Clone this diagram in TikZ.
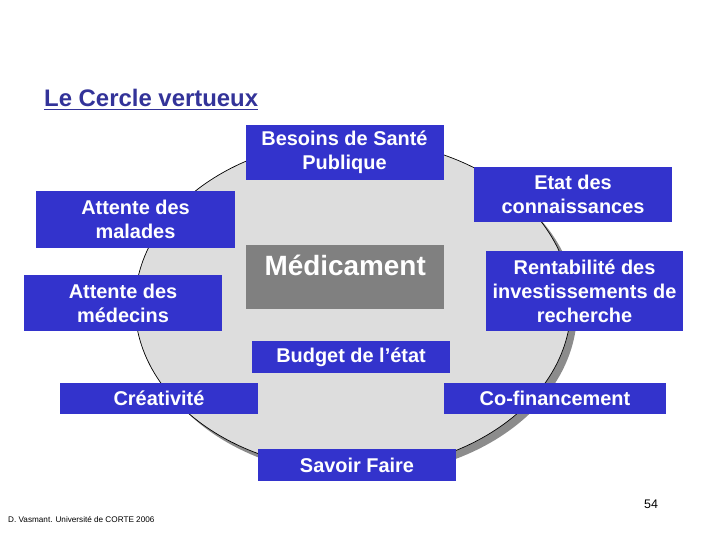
\documentclass[tikz,border=0pt]{standalone}
\usepackage{fontspec}
\setmainfont{Liberation Sans}
\definecolor{slideblue}{HTML}{3333CC}
\definecolor{slidetitle}{HTML}{333399}
\definecolor{slidegrey}{HTML}{DDDDDD}
\definecolor{slideshadow}{HTML}{8C8C8C}
\definecolor{slidedark}{HTML}{808080}

\begin{document}
\begin{tikzpicture}[
  x=1bp,
  y=-1bp,
  every node/.style={font=\bfseries\fontsize{20}{24}\selectfont, white},
  box/.style={fill=slideblue, align=center, inner sep=0pt,
              minimum width=198bp},
  medbox/.style={fill=slidedark, inner xsep=0pt, inner ysep=4bp,
                 minimum width=198bp, text height=26bp, text depth=30bp,
                 font=\bfseries\fontsize{28}{32}\selectfont},
  heading/.style={slidetitle, inner sep=0pt,
                  font=\bfseries\fontsize{24}{28}\selectfont},
  small/.style={black, inner sep=0pt, font=\fontsize{8.2}{10}\selectfont},
  pageno/.style={black, inner sep=0pt, font=\fontsize{12.5}{15}\selectfont}
]
  % ---- page frame ------------------------------------------------------
  \useasboundingbox (0,0) rectangle (720,540);

  % ---- the circle and its shadow ---------------------------------------
  \fill[slideshadow] (359,311) ellipse [x radius=218bp, y radius=165bp];
  \filldraw[fill=slidegrey, draw=black, line width=0.7pt]
    (353,305) ellipse [x radius=218bp, y radius=165bp];

  % ---- title -----------------------------------------------------------
  \node[heading, anchor=base west] (title) at (44,107) {Le Cercle vertueux};
  \draw[slidetitle, line width=1.8bp]
    ([yshift=-2.5bp]title.base west) -- ([yshift=-2.5bp]title.base east);

  % ---- centre ----------------------------------------------------------
  \node[medbox, anchor=north west] (medic) at (246,245) {Médicament};

  % ---- the boxes round the circle --------------------------------------
  \node[box, minimum height=55bp] (besoins) at (344.5,152.5)
    {Besoins de Santé\\Publique};
  \node[box, minimum height=55bp] (etat) at (573,194.5)
    {Etat des\\connaissances};
  \node[box, minimum height=57bp] (malades) at (135.5,219.5)
    {Attente des\\malades};
  \node[box, minimum height=56bp] (medecins) at (123,303)
    {Attente des\\médecins};
  \node[box, minimum width=197bp, minimum height=80bp] (rentab) at (584.5,291)
    {Rentabilité des\\investissements de\\recherche};
  \node[box, minimum height=32bp] (budget) at (351,357) {Budget de l’état};
  \node[box, minimum height=31bp] (creat) at (159,398.5) {Créativité};
  \node[box, minimum width=222bp, minimum height=31bp] (cofin) at (555,398.5)
    {Co-financement};
  \node[box, minimum height=32bp] (savoir) at (357,465) {Savoir Faire};

  % ---- footer ----------------------------------------------------------
  \node[small, anchor=base west] (credit) at (8,522)
    {D. Vasmant.  Université de CORTE 2006};
  \node[pageno, anchor=base] (page) at (651,508) {54};

\end{tikzpicture}
\end{document}
